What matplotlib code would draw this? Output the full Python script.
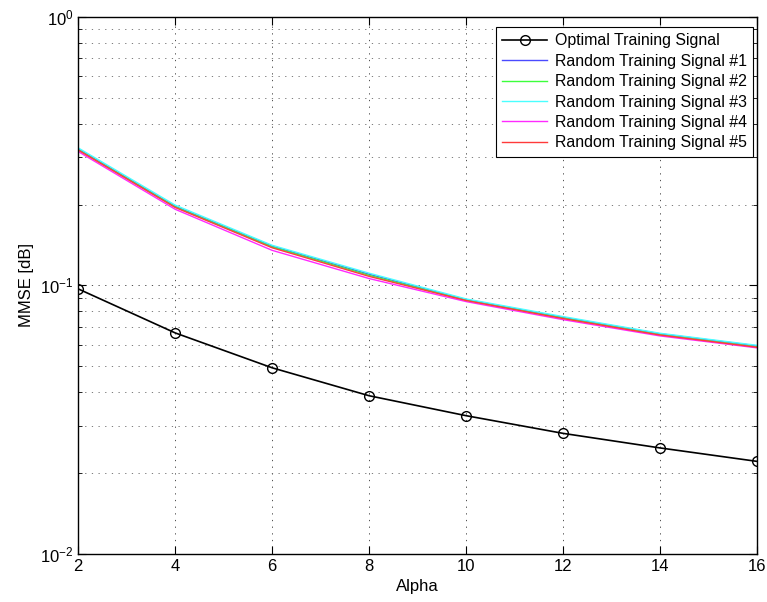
import numpy as np
import matplotlib.pyplot as plt

alpha = [2, 4, 6, 8, 10, 12, 14, 16]
optimal = [0.097, 0.0665, 0.0493, 0.0388, 0.0327, 0.0281, 0.0248, 0.0221]
random1 = [0.322, 0.197, 0.140, 0.110, 0.0885, 0.0760, 0.0660, 0.0595]
random2 = [0.320, 0.196, 0.139, 0.109, 0.0880, 0.0755, 0.0655, 0.0590]
random3 = [0.325, 0.199, 0.141, 0.111, 0.0890, 0.0765, 0.0663, 0.0598]
random4 = [0.315, 0.192, 0.135, 0.106, 0.0870, 0.0745, 0.0648, 0.0585]
random5 = [0.319, 0.195, 0.138, 0.108, 0.0878, 0.0752, 0.0653, 0.0588]
random_series = [random1, random2, random3, random4, random5]
random_colors = ['#4a4aff', '#3cff3c', '#4affff', '#ff2aff', '#ff3a3a']

plt.rcParams['font.family'] = ['Liberation Sans', 'DejaVu Sans']
fig, ax = plt.subplots(figsize=(7.67, 6.02), dpi=100)
fig.subplots_adjust(left=0.102, right=0.987, top=0.972, bottom=0.08)

ax.semilogy(alpha, optimal, color='black', marker='o', markersize=7,
            markerfacecolor='none', markeredgewidth=1.0, lw=1.2,
            label='Optimal Training Signal')
for i, (vals, c) in enumerate(zip(random_series, random_colors)):
    ax.semilogy(alpha, vals, color=c, lw=1.0,
                label='Random Training Signal #%d' % (i + 1))

ax.set_xlim(2, 16)
ax.set_ylim(1e-2, 1e0)
ax.set_xticks(alpha)
ax.set_xlabel('Alpha', fontsize=12)
ax.set_ylabel('MMSE [dB]', fontsize=12)
ax.tick_params(which='both', direction='in', top=True, right=True, labelsize=12)
ax.tick_params(which='major', length=6)
ax.tick_params(which='minor', length=3)
# matlab-like sparse dotted grid
dots = (0, (1.5, 6.5))
ax.grid(True, which='major', ls=dots, color='#333333', lw=0.6)
ax.grid(True, which='minor', axis='y', ls=dots, color='#666666', lw=0.6)
for s in ax.spines.values():
    s.set_linewidth(1.0)

leg = ax.legend(loc='upper right', bbox_to_anchor=(0.994, 0.981),
                borderaxespad=0, fontsize=11.4, fancybox=False, framealpha=1,
                edgecolor='black', handlelength=2.85, handletextpad=0.45,
                labelspacing=0.34, borderpad=0.4)
leg.get_frame().set_linewidth(0.8)

plt.savefig('out.png')
plt.close()
